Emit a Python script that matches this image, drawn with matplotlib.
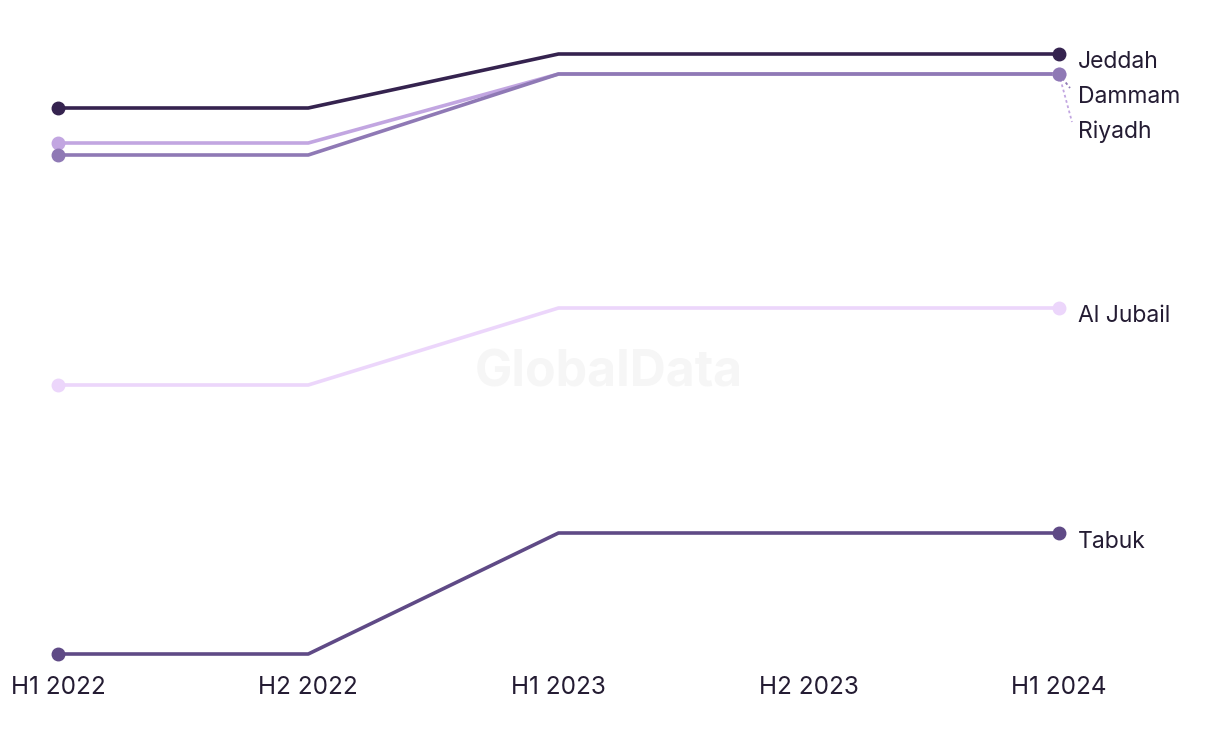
import numpy as np
from matplotlib import pyplot as plt

# half-year periods and city index values (arbitrary units)
periods = ["H1 2022", "H2 2022", "H1 2023", "H2 2023", "H1 2024"]
jeddah = [59.2, 59.2, 64.6, 64.6, 64.6]
riyadh = [55.7, 55.7, 62.6, 62.6, 62.6]
dammam = [54.5, 54.5, 62.6, 62.6, 62.6]
al_jubail = [31.5, 31.5, 39.2, 39.2, 39.2]
tabuk = [4.6, 4.6, 16.7, 16.7, 16.7]

series = [
    ("Al Jubail", al_jubail, "#ecd6fb"),
    ("Tabuk", tabuk, "#5f4a86"),
    ("Riyadh", riyadh, "#c2a6e1"),
    ("Dammam", dammam, "#8f79b5"),
    ("Jeddah", jeddah, "#35234f"),
]

plt.rcParams['font.family'] = ['Inter', 'DejaVu Sans']

fig = plt.figure(figsize=(12.2, 7.44), dpi=100)
ax = fig.add_axes([0, 1 - 665 / 744, 1, 645 / 744])

x = np.arange(len(periods))
for name, vals, col in series:
    ax.plot(x, vals, color=col, lw=2.6, solid_capstyle="round", zorder=2)
    ax.plot([x[0], x[-1]], [vals[0], vals[-1]], "o", color=col, ms=9, zorder=3)

# end labels
lab_x = 4 + 19 / 250.25
txt_col = "#241c33"
fs = 16.5
ax.text(lab_x, 63.8, "Jeddah", fontsize=fs, color=txt_col, va="center")
ax.text(lab_x, 60.3, "Dammam", fontsize=fs, color=txt_col, va="center")
ax.text(lab_x, 56.8, "Riyadh", fontsize=fs, color=txt_col, va="center")
ax.text(lab_x, 38.4, "Al Jubail", fontsize=fs, color=txt_col, va="center")
ax.text(lab_x, 15.8, "Tabuk", fontsize=fs, color=txt_col, va="center")

# leader lines for the overlapping labels
ax.plot([4, 4 + 11 / 250.25], [dammam[-1], 61.2], ls=(0, (1.5, 1.5)), lw=1.3,
        color="#8f79b5", zorder=1)
ax.plot([4, 4 + 13 / 250.25], [riyadh[-1], 57.8], ls=(0, (1.5, 1.5)), lw=1.3,
        color="#c2a6e1", zorder=1)

# watermark
ax.text(2.2, 32.7, "GlobalData", fontsize=36, fontweight="bold", color="#f6f6f6",
        ha="center", va="center", zorder=0)

ax.set_xlim(-58 / 250.25, 4 + 161 / 250.25)
ax.set_ylim(3.5, 68)
ax.set_xticks(x)
ax.set_xticklabels(periods, fontsize=17.5, color=txt_col)
ax.tick_params(axis="x", length=0, pad=8)
ax.set_yticks([])
for s in ax.spines.values():
    s.set_visible(False)

plt.savefig("out.png", dpi=100)
